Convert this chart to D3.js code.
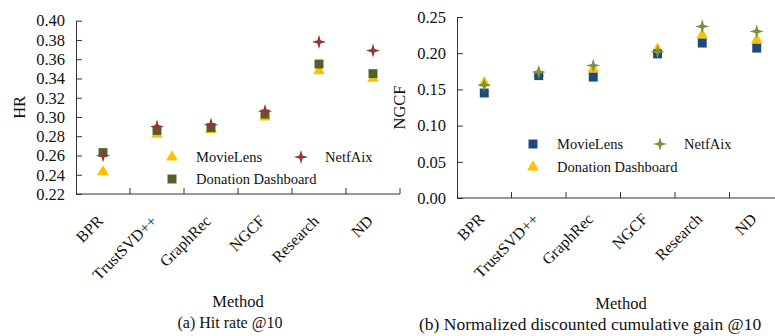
<!DOCTYPE html>
<html>
<head>
<meta charset="utf-8">
<script src="https://cdn.jsdelivr.net/npm/d3@7"></script>
<style>
  body { margin: 0; background: #fff; }
  svg text { font-family: 'Liberation Serif', 'Times New Roman', Times, 'DejaVu Serif', serif !important; }
</style>
</head>
<body>
<svg id="chart" width="775" height="336"></svg>
<script>
const methods = ['BPR', 'TrustSVD++', 'GraphRec', 'NGCF', 'Research', 'ND'];

// (a) hit rate @10
const hrMovieLens = [0.243, 0.282, 0.287, 0.300, 0.348, 0.340];
const hrNetfAix   = [0.260, 0.290, 0.292, 0.306, 0.378, 0.369];
const hrDonation  = [0.263, 0.286, 0.289, 0.303, 0.355, 0.345];
const hrTicks = [0.22, 0.24, 0.26, 0.28, 0.30, 0.32, 0.34, 0.36, 0.38, 0.40];

// (b) NDCG @10
const ndcgMovieLens = [0.145, 0.169, 0.167, 0.199, 0.214, 0.207];
const ndcgNetfAix   = [0.156, 0.174, 0.183, 0.202, 0.237, 0.230];
const ndcgDonation  = [0.159, 0.172, 0.178, 0.205, 0.225, 0.218];
const ndcgTicks = [0.00, 0.05, 0.10, 0.15, 0.20, 0.25];

const svg = d3.select('#chart');
const serif = "'Liberation Serif', 'Times New Roman', Times, serif";

// four pointed star
const star4 = {
  draw(ctx, size) {
    const r = Math.sqrt(size) * 0.75, ri = r * 0.32;
    for (let i = 0; i < 8; i++) {
      const a = i * Math.PI / 4 - Math.PI / 2;
      const rr = i % 2 === 0 ? r : ri;
      const px = rr * Math.cos(a), py = rr * Math.sin(a);
      if (i === 0) ctx.moveTo(px, py); else ctx.lineTo(px, py);
    }
    ctx.closePath();
  }
};
const shapes = {
  tri: d3.symbol().type(d3.symbolTriangle).size(60),
  sq: d3.symbol().type(d3.symbolSquare).size(80),
  star: d3.symbol().type(star4).size(90)
};

function panel(opt) {
  const g = svg.append('g');
  const x = d3.scaleBand().domain(methods).range(opt.xr);
  const y = d3.scaleLinear().domain(opt.domain).range(opt.yr);
  const axisColor = '#333';

  // y axis, inward ticks
  const yAx = g.append('g')
    .attr('transform', 'translate(' + opt.xr[0] + ',0)')
    .call(d3.axisLeft(y).tickValues(opt.ticks).tickFormat(d3.format('.2f'))
      .tickSizeInner(-6).tickSizeOuter(0).tickPadding(11));
  yAx.attr('font-family', serif);
  yAx.select('.domain').attr('stroke', axisColor);
  yAx.selectAll('.tick line').attr('stroke', axisColor);
  yAx.selectAll('text').attr('font-size', 16.5).attr('fill', '#111');

  // x axis with ticks at category boundaries
  const xAx = g.append('g').attr('transform', 'translate(0,' + opt.yr[0] + ')');
  xAx.append('line').attr('x1', opt.xr[0]).attr('x2', opt.xr[1])
    .attr('stroke', axisColor);
  xAx.selectAll('line.tk').data(methods).enter().append('line')
    .attr('class', 'tk')
    .attr('x1', d => x(d) + x.bandwidth()).attr('x2', d => x(d) + x.bandwidth())
    .attr('y1', 0).attr('y2', -6).attr('stroke', axisColor);
  xAx.selectAll('text').data(methods).enter().append('text')
    .attr('transform', d => 'translate(' + (x(d) + x.bandwidth() / 2 + 1) + ',' + opt.labelDy + ')rotate(-45)')
    .attr('text-anchor', 'end')
    .attr('font-size', 16).attr('fill', '#111')
    .text(d => d);

  const cx = (d, i) => x(d) + x.bandwidth() * (0.5 + (opt.shift[i] || 0));

  opt.series.forEach(s => {
    g.append('g').selectAll('path').data(methods).enter().append('path')
      .attr('d', shapes[s.shape])
      .attr('fill', s.color)
      .attr('transform', (d, i) => 'translate(' + cx(d, i) + ',' + y(s.values[i]) + ')');
  });

  // legend
  const lg = g.append('g');
  opt.legend.forEach(it => {
    lg.append('path').attr('d', shapes[it.shape]).attr('fill', it.color)
      .attr('transform', 'translate(' + it.x + ',' + it.y + ')');
    lg.append('text').attr('x', it.x + 24).attr('y', it.y).attr('dy', '0.35em')
      .attr('font-size', 14.5).attr('fill', '#111').text(it.label);
  });

  // axis titles + caption
  g.append('text')
    .attr('transform', 'translate(' + opt.yLabelX + ',' + ((opt.yr[0] + opt.yr[1]) / 2) + ')rotate(-90)')
    .attr('text-anchor', 'middle').attr('font-size', 16.5).attr('fill', '#111')
    .text(opt.yLabel);
  g.append('text').attr('x', opt.methodX).attr('y', opt.methodY)
    .attr('text-anchor', 'middle').attr('font-size', 16.5).attr('fill', '#111')
    .text('Method');
  g.append('text').attr('x', opt.capX).attr('y', opt.capY)
    .attr('text-anchor', opt.capAnchor).attr('font-size', opt.capSize).attr('fill', '#111')
    .text(opt.caption);
}

panel({
  xr: [76, 400], yr: [194, 20.7], domain: [0.22, 0.40], ticks: hrTicks,
  shift: [], labelDy: 28,
  series: [
    {values: hrMovieLens, shape: 'tri', color: '#FFC000'},
    {values: hrDonation, shape: 'sq', color: '#4F6228'},
    {values: hrNetfAix, shape: 'star', color: '#953735'}
  ],
  legend: [
    {label: 'MovieLens', shape: 'tri', color: '#FFC000', x: 172, y: 157},
    {label: 'NetfAix', shape: 'star', color: '#953735', x: 301, y: 157},
    {label: 'Donation Dashboard', shape: 'sq', color: '#4F6228', x: 172, y: 179}
  ],
  yLabel: 'HR', yLabelX: 25,
  methodX: 238, methodY: 307,
  caption: '(a) Hit rate @10', capX: 230, capY: 328, capAnchor: 'middle', capSize: 16
});

panel({
  xr: [457, 784], yr: [198, 17], domain: [0, 0.25], ticks: ndcgTicks,
  shift: [0, 0, 0, 0.18, 0, 0], labelDy: 22,
  series: [
    {values: ndcgDonation, shape: 'tri', color: '#FFC000'},
    {values: ndcgMovieLens, shape: 'sq', color: '#1F497D'},
    {values: ndcgNetfAix, shape: 'star', color: '#77933C'}
  ],
  legend: [
    {label: 'MovieLens', shape: 'sq', color: '#1F497D', x: 533, y: 144},
    {label: 'NetfAix', shape: 'star', color: '#77933C', x: 660, y: 144},
    {label: 'Donation Dashboard', shape: 'tri', color: '#FFC000', x: 533, y: 167}
  ],
  yLabel: 'NGCF', yLabelX: 405,
  methodX: 621, methodY: 309,
  caption: '(b) Normalized discounted cumulative gain @10', capX: 419, capY: 330, capAnchor: 'start', capSize: 17.5
});
</script>
</body>
</html>
